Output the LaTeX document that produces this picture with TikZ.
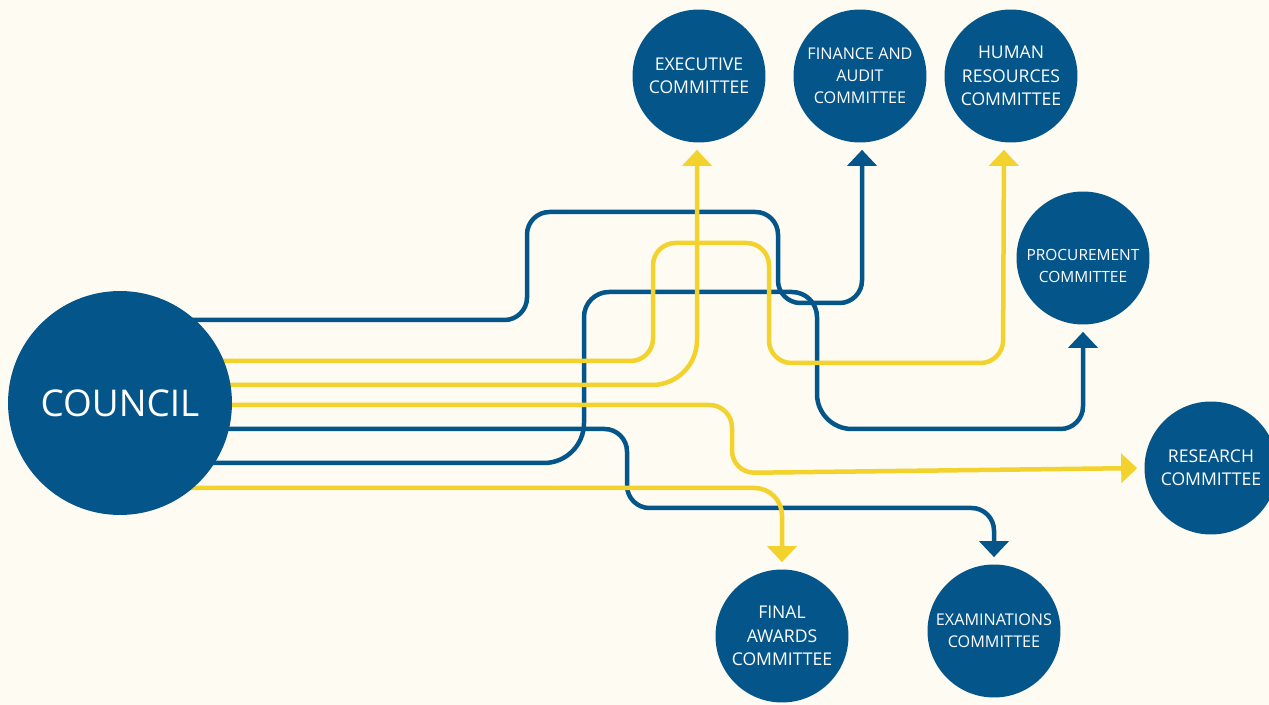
\documentclass[tikz,border=0pt]{standalone}
\usepackage{fontspec}
\setsansfont{Open Sans}
\usetikzlibrary{arrows.meta}
\definecolor{navy}{HTML}{04568A}
\definecolor{gold}{HTML}{F4D22E}
\definecolor{paper}{HTML}{FDFBF2}
\pgfdeclarelayer{wires}
\pgfsetlayers{wires,main}
\begin{document}
\begin{tikzpicture}
  [x=0.02cm,y=-0.02cm,
   committee/.style=
     {circle,fill=navy,text=white,minimum size=2.66cm,inner sep=0pt,
      align=center,font=\sffamily\fontsize{10}{13.3}\selectfont},
   small/.style={font=\sffamily\fontsize{9.2}{12.5}\selectfont},
   wire/.style=
     {line width=0.09cm,rounded corners=0.45cm,
      -{Triangle[width=0.58cm,length=0.32cm]},shorten >=0.14cm},
   navywire/.style={wire,draw=navy},
   goldwire/.style={wire,draw=gold}
  ]
  \useasboundingbox (0,0) rectangle (1269,705);
  % council and committees
  \node[committee,minimum size=4.48cm,font=\sffamily\fontsize{21}{24}\selectfont]
    (council) at (120,403) {COUNCIL};
  \node[committee] (executive) at (699,76) {EXECUTIVE\\COMMITTEE};
  \node[committee,small] (finance) at (860,76) {FINANCE AND\\AUDIT\\COMMITTEE};
  \node[committee] (hr) at (1011,76) {HUMAN\\RESOURCES\\COMMITTEE};
  \node[committee,
        label={[text=white,align=center,yshift=-0.16cm,
                font=\sffamily\fontsize{8.8}{12}\selectfont]
               center:PROCUREMENT\\COMMITTEE}]
    (procurement) at (1083,258) {};
  \node[committee] (research) at (1211,468) {RESEARCH\\COMMITTEE};
  \node[committee] (finalawards) at (782,636) {FINAL\\AWARDS\\COMMITTEE};
  \node[committee,small] (exams) at (994,631) {EXAMINATIONS\\COMMITTEE};
  \begin{pgfonlayer}{wires}
    \fill[paper] (0,0) rectangle (1269,705);
    % blue lines
    \draw[navywire] (council |- 0,320) -- (527,320) -- (527,212) -- (778,212)
      -- (778,303) -- (862,303) -- (862,0 |- finance.south);
    \draw[navywire] (council |- 0,429) -- (627,429) -- (627,508)
      -- (exams |- 0,508) -- (exams.north);
    \draw[navywire] (council |- 0,463) [rounded corners=0.8cm] -- (584,463)
      [rounded corners=0.5cm] -- (584,292) -- (817,292)
      [rounded corners=0.7cm] -- (817,429)
      [rounded corners=0.45cm] -- (procurement |- 0,429) -- (procurement.south);
    % yellow lines
    \draw[goldwire] (council |- 0,361) -- (653,361) -- (653,243) -- (769,243)
      -- (769,363) -- (1003,363) -- (1004,0 |- hr.south);
    \draw[goldwire,rounded corners=0.9cm] (council |- 0,385) -- (697,385)
      -- (697,0 |- executive.south);
    \draw[goldwire] (council |- 0,405) -- (732,405) -- (732,473)
      -- (research.west);
    \draw[goldwire,rounded corners=0.55cm] (council |- 0,488) -- (782,488)
      -- (finalawards.north);
  \end{pgfonlayer}
\end{tikzpicture}
\end{document}
